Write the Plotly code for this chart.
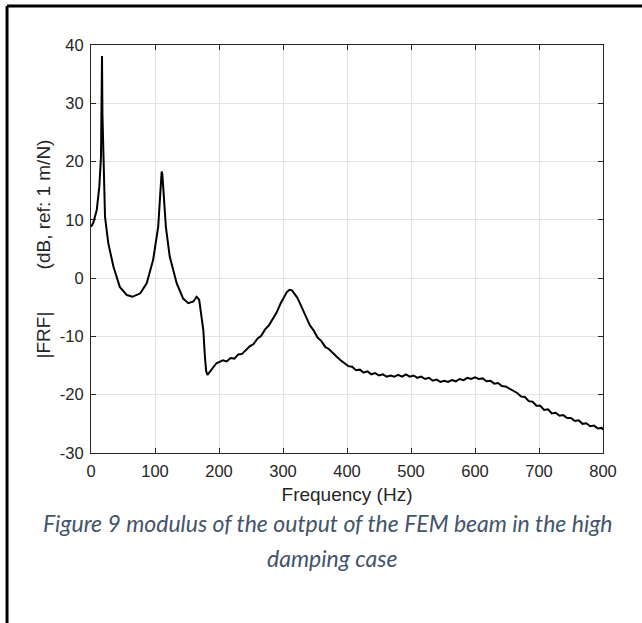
import plotly.graph_objects as go

freq_hz = [0, 3.6, 9, 13, 15.6, 16.6, 17.2, 17.9, 19.3, 21.9, 27, 35, 45, 56, 65, 77, 87, 97, 105,
           108.8, 109.6, 110.4, 111.5, 113, 117, 123, 134, 144, 152, 160, 165, 169, 173, 175.5, 178,
           180, 182, 185, 188, 192, 196,
           200, 206, 212, 218, 224, 230, 236, 242, 248, 254, 260, 266, 272, 278, 284, 290, 296, 302, 306, 310,
           314, 318, 322, 326, 330, 336, 342, 348, 354, 360, 366, 372, 378, 384, 390, 396, 402, 408, 414, 420,
           426, 432, 438, 444, 450, 456, 462, 468, 474, 480, 486, 492, 498, 504, 510, 516, 522, 528, 534, 540,
           546, 552, 558, 564, 570, 576, 582, 588, 594, 600, 606, 612, 618, 624, 630, 636, 642, 648, 654, 660,
           666, 672, 678, 684, 690, 696, 702, 708, 714, 720, 726, 732, 738, 744, 750, 756, 762, 768, 774, 780,
           786, 792, 798, 800]
frf_db = [8.8, 9.5, 11.7, 15.7, 20.8, 27.5, 38.1, 28.0, 20.8, 10.5, 6.0, 2.0, -1.5, -2.9, -3.2, -2.6, -0.9, 3.1, 8.8,
          15.1, 17.6, 18.3, 17.8, 15.1, 8.8, 3.7, -0.9, -3.5, -4.3, -4.0, -3.2, -3.7, -6.6, -8.9, -13.5,
          -16.0, -16.6, -16.2, -15.6, -15.2, -14.6,
          -14.4, -14.1, -14.3, -13.7, -13.8, -13.1, -13.0, -12.3, -11.7, -11.3, -10.4, -9.9, -8.8, -8.1, -6.9, -5.9, -4.4, -3.3, -2.4, -2.0,
          -2.1, -2.7, -3.3, -4.2, -5.2, -6.6, -8.1, -9.0, -10.2, -10.8, -11.8, -12.2, -12.9, -13.5, -14.1, -14.6, -15.1, -15.2, -15.8, -15.7,
          -16.2, -16.0, -16.5, -16.3, -16.7, -16.5, -16.9, -16.7, -16.9, -16.6, -16.9, -16.5, -16.9, -16.7, -17.1, -16.9, -17.3, -17.1, -17.6, -17.4,
          -17.8, -17.6, -17.8, -17.5, -17.7, -17.3, -17.5, -17.1, -17.3, -17.0, -17.3, -17.2, -17.7, -17.6, -18.1, -18.0, -18.5, -18.6, -19.0, -19.4,
          -19.7, -20.3, -20.4, -21.1, -21.2, -21.9, -21.9, -22.6, -22.5, -23.2, -23.1, -23.6, -23.5, -24.0, -24.0, -24.5, -24.4, -25.0, -24.9, -25.4,
          -25.3, -25.8, -25.7, -26.0]

x_ticks = [0, 100, 200, 300, 400, 500, 600, 700, 800]
y_ticks = [-30, -20, -10, 0, 10, 20, 30, 40]

x_title = "Frequency (Hz)"
y_title = "|FRF|" + "\u00a0" * 8 + "(dB, ref: 1 m/N)"
caption_1 = "Figure 9 modulus of the output of the FEM beam in the high"
caption_2 = "damping case"

axis_color = "#262626"
grid_color = "#e3e3e3"
label_family = "Liberation Sans, Arial, sans-serif"
tick_font = dict(family=label_family, size=16.5, color=axis_color)
title_font = dict(family=label_family, size=19, color=axis_color)
caption_font = dict(family="Lato, sans-serif", size=23, color="#44546A", style="italic")

fig = go.Figure()
fig.add_trace(go.Scatter(x=freq_hz, y=frf_db, mode="lines",
                         line=dict(color="black", width=2), showlegend=False, hoverinfo="x+y"))

common_axis = dict(showline=True, mirror="ticks", linecolor=axis_color, linewidth=1,
                   ticks="inside", ticklen=5, tickcolor=axis_color, tickwidth=1,
                   showgrid=True, gridcolor=grid_color, gridwidth=1, zeroline=False,
                   tickfont=tick_font)

fig.update_layout(
    width=642, height=623,
    margin=dict(l=91, r=39, t=45, b=170),
    plot_bgcolor="white", paper_bgcolor="white",
    xaxis=dict(range=[0, 800], tickvals=x_ticks, ticktext=[str(v) for v in x_ticks],
               ticklabelstandoff=3,
               title=dict(text=x_title, font=title_font, standoff=8),
               **common_axis),
    yaxis=dict(range=[-30, 40], tickvals=y_ticks, ticktext=[str(v) for v in y_ticks],
               ticklabelstandoff=3,
               title=dict(text=y_title, font=title_font, standoff=4),
               **common_axis),
    annotations=[
        dict(text=caption_1, xref="paper", yref="paper", x=0.463, y=-0.1716, showarrow=False,
             xanchor="center", yanchor="middle", font=caption_font),
        dict(text=caption_2, xref="paper", yref="paper", x=0.471, y=-0.257, showarrow=False,
             xanchor="center", yanchor="middle", font=caption_font),
    ],
    shapes=[
        dict(type="line", xref="paper", yref="paper", x0=-0.164, x1=1.08, y0=1.0956, y1=1.0956,
             line=dict(color="black", width=3)),
        dict(type="line", xref="paper", yref="paper", x0=-0.164, x1=-0.164, y0=1.0956, y1=-0.45,
             line=dict(color="black", width=3)),
    ],
)

fig.write_html("out.html", config={"displayModeBar": False},
               post_script="document.body.style.margin='0';")
